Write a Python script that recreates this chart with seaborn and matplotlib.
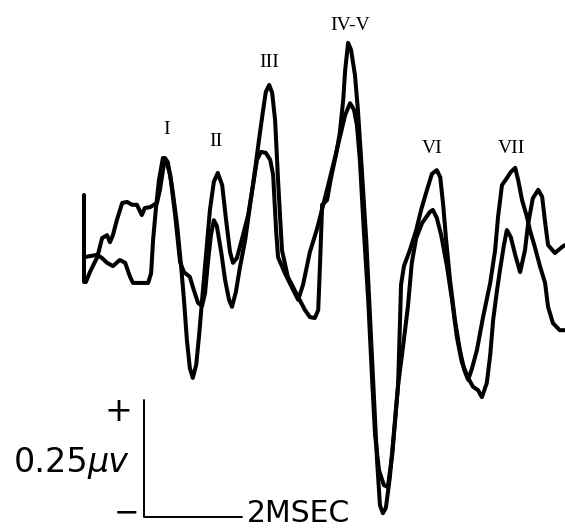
import numpy as np
import pandas as pd
import seaborn as sns
import matplotlib.pyplot as plt

# trace A: time (ms) and amplitude (uV)
time_a = [0.00, 0.00, 0.04, 0.12, 0.27, 0.37, 0.47, 0.53, 0.59, 0.67, 0.78, 0.88, 0.98, 1.08, 1.18,
          1.24, 1.35, 1.49, 1.55, 1.65, 1.71, 1.80, 1.90, 1.98, 2.04, 2.10, 2.16, 2.22, 2.29, 2.35,
          2.41, 2.49, 2.57, 2.65, 2.73, 2.82, 2.90, 2.98, 3.04, 3.12, 3.22, 3.35, 3.45, 3.53, 3.61,
          3.71, 3.80, 3.86, 3.92, 3.96, 4.10, 4.24, 4.37, 4.47, 4.61, 4.76, 4.96, 5.16, 5.33, 5.43,
          5.51, 5.57, 5.63, 5.71, 5.80, 5.88, 5.94, 6.02, 6.12, 6.20, 6.29, 6.41, 6.51, 6.61, 6.69,
          6.78, 6.90, 7.06, 7.12, 7.20, 7.29, 7.41, 7.51, 7.61, 7.71, 7.84, 7.94, 8.04, 8.12, 8.22,
          8.29, 8.35, 8.43, 8.49, 8.57, 8.63, 8.71, 8.80, 8.90, 9.00, 9.06, 9.16, 9.27, 9.35, 9.41,
          9.47, 9.61, 9.76, 9.82]
amp_a = [0.139, -0.047, -0.047, -0.026, 0.006, 0.047, 0.053, 0.038, 0.053, 0.085, 0.122, 0.124, 0.118, 0.118, 0.096,
         0.111, 0.113, 0.122, 0.150, 0.218, 0.209, 0.154, 0.075, -0.011, -0.085, -0.171, -0.231, -0.252, -0.224, -0.160,
         -0.085, 0.011, 0.107, 0.167, 0.186, 0.160, 0.085, 0.017, -0.006, 0.004, 0.043, 0.096, 0.160, 0.214, 0.231,
         0.229, 0.214, 0.182, 0.064, 0.006, -0.028, -0.058, -0.085, -0.053, 0.017, 0.068, 0.150, 0.235, 0.310, 0.335,
         0.321, 0.288, 0.214, 0.064, -0.085, -0.256, -0.374, -0.449, -0.481, -0.485, -0.417, -0.267, -0.186, -0.100, -0.006,
         0.047, 0.079, 0.103, 0.107, 0.090, 0.053, -0.015, -0.085, -0.165, -0.218, -0.252, -0.271, -0.278, -0.293, -0.263,
         -0.203, -0.128, -0.064, -0.021, 0.032, 0.064, 0.049, 0.011, -0.026, 0.021, 0.075, 0.132, 0.150, 0.135, 0.081,
         0.032, 0.015, 0.028, 0.032]

# trace B
time_b = [0.00, 0.27, 0.37, 0.47, 0.59, 0.73, 0.84, 0.94, 1.00, 1.31, 1.37, 1.41, 1.47, 1.53, 1.61,
          1.67, 1.76, 1.86, 1.96, 2.04, 2.16, 2.24, 2.33, 2.41, 2.47, 2.53, 2.59, 2.65, 2.71, 2.80,
          2.88, 2.96, 3.02, 3.10, 3.18, 3.29, 3.39, 3.49, 3.57, 3.65, 3.71, 3.78, 3.84, 3.90, 3.96,
          4.04, 4.16, 4.37, 4.51, 4.61, 4.71, 4.78, 4.82, 4.86, 4.96, 5.04, 5.14, 5.22, 5.29, 5.33,
          5.39, 5.45, 5.53, 5.59, 5.67, 5.76, 5.84, 5.92, 5.98, 6.04, 6.10, 6.16, 6.24, 6.33, 6.41,
          6.45, 6.47, 6.53, 6.65, 6.78, 6.88, 7.00, 7.10, 7.20, 7.27, 7.33, 7.39, 7.47, 7.57, 7.67,
          7.76, 7.84, 7.92, 8.02, 8.14, 8.29, 8.39, 8.45, 8.53, 8.63, 8.71, 8.80, 8.86, 8.94, 9.04,
          9.10, 9.20, 9.31, 9.41, 9.47, 9.57, 9.71, 9.82]
amp_b = [0.006, 0.011, 0.004, -0.006, -0.013, 0.000, -0.006, -0.036, -0.049, -0.049, -0.028, 0.043, 0.113, 0.171, 0.218,
         0.214, 0.182, 0.096, -0.004, -0.026, -0.036, -0.064, -0.092, -0.098, -0.071, -0.004, 0.053, 0.085, 0.073, 0.017,
         -0.043, -0.085, -0.100, -0.068, -0.017, 0.043, 0.118, 0.192, 0.256, 0.316, 0.359, 0.374, 0.357, 0.299, 0.171,
         0.021, -0.036, -0.079, -0.107, -0.122, -0.124, -0.107, 0.000, 0.118, 0.128, 0.175, 0.224, 0.271, 0.342, 0.406,
         0.464, 0.449, 0.395, 0.321, 0.192, 0.043, -0.128, -0.299, -0.427, -0.524, -0.541, -0.530, -0.466, -0.363, -0.267,
         -0.128, -0.053, -0.013, 0.021, 0.064, 0.107, 0.150, 0.184, 0.192, 0.177, 0.118, 0.043, -0.043, -0.128, -0.192,
         -0.235, -0.256, -0.231, -0.192, -0.124, -0.049, 0.021, 0.092, 0.160, 0.175, 0.188, 0.197, 0.171, 0.128, 0.092,
         0.064, 0.028, -0.015, -0.049, -0.100, -0.135, -0.150, -0.150]

# wave labels
wave_names = ["I", "II", "III", "IV-V", "VI", "VII"]
wave_t = [1.69, 2.69, 3.78, 5.43, 7.10, 8.73]
wave_v = [0.278, 0.254, 0.421, 0.502, 0.239, 0.239]

# calibration bar
bar_t0, bar_v0 = 1.224, -0.549
bar_ms, bar_uv = 2.0, 0.25

sns.set_style("white")
fig = plt.figure(figsize=(5.65, 5.29), dpi=100)
ax = fig.add_axes([0, 0, 1, 1])

df_a = pd.DataFrame({"t": time_a, "v": amp_a})
df_b = pd.DataFrame({"t": time_b, "v": amp_b})
for d in (df_a, df_b):
    sns.lineplot(data=d, x="t", y="v", ax=ax, color="black", lw=2.9,
                 estimator=None, sort=False, solid_joinstyle="round", solid_capstyle="round")

for name, t, v in zip(wave_names, wave_t, wave_v):
    ax.text(t, v, name, ha="center", va="center", fontsize=14,
            family="Liberation Serif", color="black")

# scale bar
ax.plot([bar_t0, bar_t0, bar_t0 + bar_ms], [bar_v0 + bar_uv, bar_v0, bar_v0],
        color="black", lw=1.4)
ax.text(0.71, -0.323, "+", ha="center", va="center", fontsize=24, color="black")
ax.text(0.09, -0.453, "0.25", ha="right", va="baseline", fontsize=24, color="black")
ax.text(0.08, -0.453, "\u03bcv", ha="left", va="baseline", fontsize=24,
        style="italic", color="black")
ax.text(0.87, -0.541, "\u2212", ha="center", va="center", fontsize=22, color="black")
ax.text(3.33, -0.560, "2MSEC", ha="left", va="baseline", fontsize=21.5, color="black")

ax.set_xlim(-84 / 49, 481 / 49)
ax.set_ylim(-269 / 468, 260 / 468)
ax.set_axis_off()

plt.savefig("out.png", dpi=100)
